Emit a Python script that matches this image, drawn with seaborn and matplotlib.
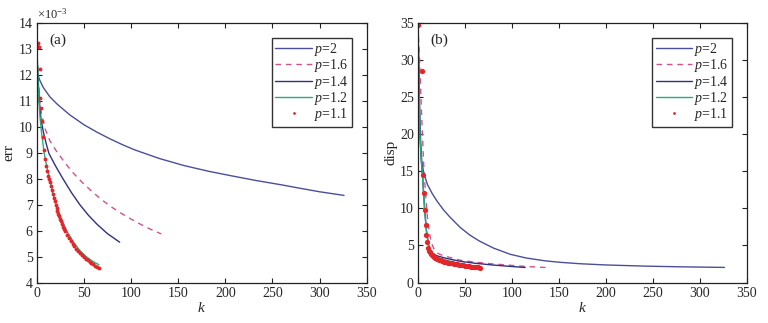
import numpy as np
import pandas as pd
import matplotlib
matplotlib.use("Agg")
import matplotlib.pyplot as plt
import seaborn as sns

# ---------------- data ----------------
# Panel (a): err (x1e-3) vs k
a_k_p2 = [0, 3, 7, 14, 22, 35, 50, 64, 78, 91, 104, 130, 156, 182, 207, 233, 259, 280, 300, 326]
a_v_p2 = [12.15, 11.8, 11.5, 11.14, 10.85, 10.45, 10.07, 9.78, 9.52, 9.3, 9.1, 8.77, 8.5, 8.28,
          8.1, 7.92, 7.76, 7.62, 7.49, 7.35]
a_k_p16 = [0, 1, 2, 3, 5, 9, 14, 20, 25, 30, 39, 48, 58, 67, 77, 87, 97, 108, 120, 132]
a_v_p16 = [13.1, 12.3, 11.6, 11.0, 10.5, 9.9, 9.45, 9.1, 8.85, 8.6, 8.2, 7.86, 7.52, 7.24,
           6.96, 6.72, 6.5, 6.28, 6.06, 5.87]
a_k_p14 = [0, 1, 2, 3, 4.5, 7, 10, 13, 20, 28, 37, 46, 55, 64, 75, 88]
a_v_p14 = [13.0, 12.2, 11.5, 10.9, 10.3, 9.8, 9.35, 8.96, 8.48, 7.98, 7.45, 6.98, 6.58, 6.24,
           5.88, 5.55]
a_k_p12 = [0, 1, 2, 3.5, 5, 8, 11, 14, 17, 21, 26, 32, 39, 46, 53, 60, 66]
a_v_p12 = [13.1, 12.2, 11.2, 10.37, 9.8, 8.96, 8.4, 7.95, 7.45, 6.96, 6.45, 5.97, 5.55, 5.22,
           4.98, 4.8, 4.68]
a_k_p11 = [0, 1, 2, 3, 4, 5, 6, 7, 8, 9, 10, 11, 12, 13, 14, 15, 16, 17, 18, 19, 20, 21, 22,
           23, 24, 25, 26, 27, 28, 29, 30, 32, 34, 36, 38, 40, 42, 44, 46, 48, 50, 52, 54, 56,
           58, 60, 62, 64, 66]
a_v_p11 = [13.15, 13.2, 13.05, 12.2, 11.1, 10.7, 10.2, 9.6, 9.1, 8.75, 8.5, 8.3, 8.1, 7.97,
           7.85, 7.7, 7.55, 7.4, 7.25, 7.12, 7.0, 6.87, 6.75, 6.65, 6.55, 6.45, 6.35, 6.25, 6.15,
           6.06, 5.98, 5.84, 5.71, 5.6, 5.5, 5.4, 5.3, 5.2, 5.12, 5.05, 4.98, 4.91, 4.86, 4.8,
           4.75, 4.7, 4.65, 4.6, 4.56]

# Panel (b): disp vs k
b_k_p2 = [0, 1, 2, 3, 4, 6, 10, 15, 20, 27, 34, 45, 55, 65, 80, 98, 115, 135, 151, 172, 200,
          243, 280, 326]
b_v_p2 = [34.5, 28, 22, 18.5, 16.4, 14.8, 13.2, 12.0, 11.0, 9.8, 8.8, 7.4, 6.4, 5.6, 4.65, 3.8,
          3.3, 2.92, 2.72, 2.53, 2.36, 2.2, 2.11, 2.03]
b_k_p16 = [0, 2, 4, 6, 8, 10, 12, 14, 17, 20, 25, 30, 45, 60, 80, 100, 120, 139]
b_v_p16 = [34.5, 29, 22, 16, 12, 8.8, 6.8, 5.4, 4.5, 4.0, 3.7, 3.5, 3.0, 2.75, 2.5, 2.3, 2.12, 2.0]
b_k_p14 = [0, 1, 2, 3.5, 5, 7, 9, 11, 13, 16, 20, 30, 45, 60, 80, 100, 114]
b_v_p14 = [34.5, 27, 20, 16.5, 14, 10, 7, 5.3, 4.2, 3.9, 3.6, 3.25, 2.85, 2.6, 2.35, 2.15, 2.02]
b_k_p12 = [0, 1, 2, 3.5, 5, 7, 9, 11, 13, 16, 20, 25, 30, 38, 45, 52, 59, 66]
b_v_p12 = [34.5, 27, 20, 16.5, 14, 9.8, 6.8, 5.0, 4.0, 3.75, 3.45, 3.2, 3.0, 2.75, 2.55, 2.38,
           2.22, 2.08]
b_k_p11 = [0, 4, 5, 6, 7, 8, 9, 10, 11, 12, 13, 14, 15, 16, 17, 18, 19, 20, 22, 24, 26, 28,
           30, 32, 34, 36, 38, 40, 42, 44, 46, 48, 50, 52, 54, 56, 58, 60, 62, 64, 66]
b_v_p11 = [34.7, 28.5, 14.5, 12.0, 9.8, 7.8, 6.4, 5.4, 4.7, 4.3, 4.05, 3.85, 3.7, 3.55, 3.45,
           3.35, 3.27, 3.2, 3.08, 2.98, 2.9, 2.82, 2.75, 2.68, 2.62, 2.56, 2.51, 2.47, 2.43,
           2.39, 2.35, 2.31, 2.27, 2.23, 2.19, 2.15, 2.12, 2.09, 2.06, 2.03, 2.0]

labels = ["$p$=2", "$p$=1.6", "$p$=1.4", "$p$=1.2", "$p$=1.1"]
colors = ["#4b4f98", "#d2508e", "#2f3184", "#21b07c", "#e3262a"]

# ---------------- style ----------------
sns.set_style("ticks")
plt.rcParams["font.family"] = ["Liberation Serif", "DejaVu Serif"]
plt.rcParams["mathtext.fontset"] = "custom"
plt.rcParams["mathtext.rm"] = "Liberation Serif"
plt.rcParams["mathtext.it"] = "Liberation Serif:italic"
plt.rcParams["xtick.direction"] = "in"
plt.rcParams["ytick.direction"] = "in"

fig = plt.figure(figsize=(7.68, 3.23), dpi=100)
W, H = 768, 323
axA = fig.add_axes([36.7 / W, (H - 282.5) / H, 330 / W, 260 / H])
axB = fig.add_axes([418 / W, (H - 282.5) / H, 329 / W, 260 / H])


def draw(ax, series, ylim, yticks, ylabel, tag, red_ms):
    for i, (k, v) in enumerate(series):
        df = pd.DataFrame({"k": k, "v": v})
        if i == 4:
            sns.lineplot(data=df, x="k", y="v", ax=ax, color=colors[i], linestyle="",
                         marker="o", markersize=red_ms, markeredgewidth=0, label=labels[i])
        elif i == 1:
            sns.lineplot(data=df, x="k", y="v", ax=ax, color=colors[i], linewidth=1.0,
                         linestyle=(0, (4, 3.5)), label=labels[i])
        else:
            sns.lineplot(data=df, x="k", y="v", ax=ax, color=colors[i], linewidth=1.0,
                         label=labels[i])
    ax.set_xlim(0, 350)
    ax.set_ylim(*ylim)
    ax.set_xticks(range(0, 351, 50))
    ax.set_yticks(yticks)
    ax.tick_params(top=True, right=True, length=3.5, width=0.8, labelsize=10, pad=3,
                   color="#222222")
    for s in ax.spines.values():
        s.set_linewidth(0.9)
        s.set_color("#222222")
    ax.set_xlabel("$k$", fontsize=11, labelpad=1)
    ax.set_ylabel(ylabel, fontsize=11, labelpad=2)
    leg = ax.legend(loc="upper right", bbox_to_anchor=(0.955, 0.942), fontsize=10,
                    labelspacing=-0.05, handlelength=2.6, handletextpad=0.15,
                    borderpad=0.25, borderaxespad=0, frameon=True, fancybox=False,
                    markerscale=2.0 / red_ms)
    leg.get_frame().set_edgecolor("black")
    leg.get_frame().set_linewidth(1.0)
    ax.text(0.038, 0.93, tag, transform=ax.transAxes, fontsize=11, va="center", ha="left")


draw(axA, [(a_k_p2, a_v_p2), (a_k_p16, a_v_p16), (a_k_p14, a_v_p14),
           (a_k_p12, a_v_p12), (a_k_p11, a_v_p11)],
     (4, 14), range(4, 15), "err", "(a)", 2.8)
axA.text(0.0, 1.005, r"$\times$10$^{\mathregular{-3}}$", transform=axA.transAxes,
         fontsize=9, va="bottom", ha="left")

draw(axB, [(b_k_p2, b_v_p2), (b_k_p16, b_v_p16), (b_k_p14, b_v_p14),
           (b_k_p12, b_v_p12), (b_k_p11, b_v_p11)],
     (0, 35), range(0, 36, 5), "disp", "(b)", 3.8)

fig.savefig("out.png", dpi=100)
